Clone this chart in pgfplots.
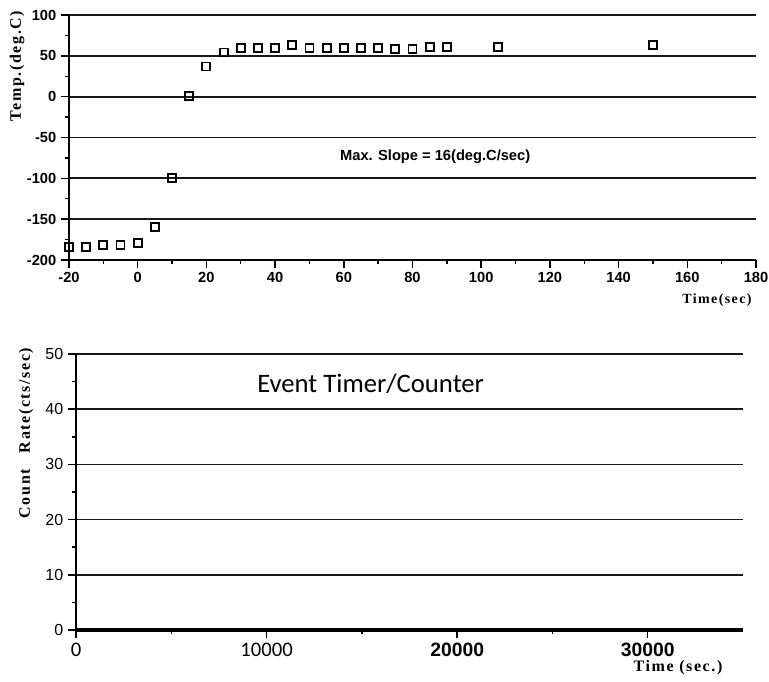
\documentclass[border=0pt]{standalone}
\usepackage{fontspec}
\setmainfont{Liberation Sans}
\newfontfamily\labfont{Liberation Serif Bold}[LetterSpace=10]
\newfontfamily\calfont{Carlito}
\usepackage{pgfplots}
\pgfplotsset{compat=1.18}
\begin{document}
\begin{tikzpicture}[x=0.75pt,y=0.75pt]
\path[use as bounding box] (0,0) rectangle (769,682);
\begin{axis}[at={(51.75pt,316.5pt)}, anchor=south west, scale only axis,
  width=515.25pt, height=183.75pt,
  xmin=-20, xmax=180, ymin=-200, ymax=100,
  axis lines=left, axis line style={-, line width=1.3pt, black},
  xtick={-20,0,...,180}, minor x tick num=1,
  ytick={-200,-150,...,100}, minor y tick num=1,
  tick align=outside, major tick length=6pt, minor tick length=3pt,
  tick style={line width=1.1pt, black},
  ymajorgrids, major grid style={line width=1.3pt, black!90},
  /pgf/number format/assume math mode=true,
  ticklabel style={font=\fontsize{11}{13}\selectfont\bfseries},
  clip=false]
\addplot[only marks, mark=square, mark size=3pt, line width=1.4pt, black]
coordinates {
(-20,-184) (-15,-184) (-10,-182) (-5,-182) (0,-179) (5,-160) (10,-100)
(15,1) (20,37) (25,54) (30,60) (35,60) (40,60) (45,63) (50,60) (55,60)
(60,60) (65,60) (70,60) (75,58) (80,58) (85,61) (90,61) (105,61) (150,63)
};
\node[font=\fontsize{11}{13}\selectfont\bfseries] at (axis cs:86.6,-74) {Max. Slope = 16(deg.C/sec)};
\end{axis}
\begin{axis}[at={(57pt,39pt)}, anchor=south west, scale only axis,
  width=500.25pt, height=207pt,
  xmin=0, xmax=35000, ymin=0, ymax=50,
  axis lines=left, axis line style={-, line width=1.3pt, black},
  x axis line style={line width=2.6pt},
  xtick={0,10000,20000,30000}, minor x tick num=1,
  xticklabels={{\calfont\fontsize{15.5}{17}\selectfont 0},{\calfont\fontsize{15.5}{17}\selectfont 10000},{\bfseries 20000},{\bfseries 30000}},
  scaled x ticks=false,
  ytick={0,10,...,50}, minor y tick num=1,
  tick align=outside, major tick length=6pt, minor tick length=3pt,
  tick style={line width=1.1pt, black},
  ymajorgrids, major grid style={line width=1.3pt, black!90},
  /pgf/number format/assume math mode=true,
  xticklabel style={font=\fontsize{14.5}{16}\selectfont},
  yticklabel style={font=\fontsize{12}{14}\selectfont},
  clip=false]
\node[font=\calfont\fontsize{20}{24}\selectfont] at (axis cs:15460,44.6) {Event Timer/Counter};
\end{axis}
\node[rotate=90, font=\labfont\fontsize{12}{14}\selectfont] at (17,616) {Temp.(deg.C)};
\node[font=\labfont\fontsize{10.5}{12}\selectfont] at (717,382) {Time(sec)};
\node[rotate=90, font=\labfont\fontsize{12}{14}\selectfont] at (26,249) {Count\hspace{1em}Rate(cts/sec)};
\node[font=\labfont\fontsize{12}{14}\selectfont] at (678,14) {Time (sec.)};
\end{tikzpicture}
\end{document}
